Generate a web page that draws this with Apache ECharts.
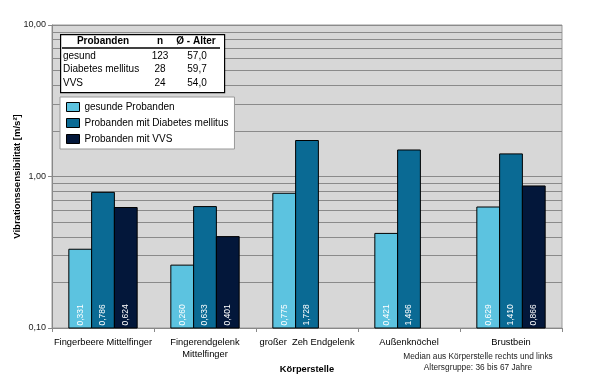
<!DOCTYPE html>
<html><head><meta charset="utf-8">
<script src="https://cdn.jsdelivr.net/npm/echarts@6/dist/echarts.min.js"></script>
<style>html,body{margin:0;padding:0;background:#fff}#c{width:600px;height:386px}</style>
</head><body><div id="c"></div>
<script>
const categories = ['Fingerbeere Mittelfinger', 'Fingerendgelenk\nMittelfinger', 'großer  Zeh Endgelenk', 'Außenknöchel', 'Brustbein'];
const seriesNames = ['gesunde Probanden', 'Probanden mit Diabetes mellitus', 'Probanden mit VVS'];
const gesund = [0.331, 0.260, 0.775, 0.421, 0.629];
const diabetes = [0.786, 0.633, 1.728, 1.496, 1.410];
const vvs = [0.624, 0.401, null, null, 0.866];
const axisMin = 0.1, axisMax = 10;
const minorGridValues = [0.2, 0.3, 0.4, 0.5, 0.6, 0.7, 0.8, 0.9, 2, 3, 4, 5, 6, 7, 8, 9];
const tableHeader = ['Probanden', 'n', 'Ø - Alter'];
const tableRows = [['gesund', '123', '57,0'], ['Diabetes mellitus', '28', '59,7'], ['VVS', '24', '54,0']];
const notes = ['Median aus Körperstelle rechts und links', 'Altersgruppe: 36 bis 67 Jahre'];
const colors = ['#5cc3e0', '#0a6a94', '#03173a'];
const FONT = '"Liberation Sans", Arial, sans-serif';

const chart = echarts.init(document.getElementById('c'), null, {renderer: 'canvas'});
const fmt = v => v.toFixed(3).replace('.', ',');
const GAP = 0.33;
function mkSeries(name, values, si) {
  const data = [];
  values.forEach((v, i) => { if (v != null) data.push([i, v]); });
  return {
    name, type: 'custom', data, z: 2,
    encode: {x: 0, y: 1},
    itemStyle: {color: colors[si], borderColor: '#000', borderWidth: 1},
    renderItem: (params, api) => {
      const ci = api.value(0), v = api.value(1);
      const base = api.coord([ci, axisMin]);
      const topPt = api.coord([ci, v]);
      const band = api.coord([1, axisMin])[0] - api.coord([0, axisMin])[0];
      const bw = band * (1 - GAP) / 3;
      const x0 = base[0] - 1.5 * bw + si * bw;
      return {
        type: 'group',
        children: [
          {type: 'rect', shape: {x: x0, y: topPt[1], width: bw, height: base[1] - topPt[1]},
            style: {fill: colors[si], stroke: '#000', lineWidth: 1}},
          {type: 'text', x: x0 + bw / 2, y: base[1] - 2.5, rotation: Math.PI / 2,
            style: {text: fmt(v), fill: '#fff', font: '8.5px ' + FONT, align: 'left', verticalAlign: 'middle'}}
        ]
      };
    }
  };
}
const series = [mkSeries(seriesNames[0], gesund, 0), mkSeries(seriesNames[1], diabetes, 1), mkSeries(seriesNames[2], vvs, 2)];
series[0].markLine = {
  silent: true, symbol: 'none', z: 1, animation: false,
  label: {show: false},
  lineStyle: {color: '#8a8a8a', type: 'solid', width: 1},
  data: minorGridValues.map(v => ({yAxis: v}))
};

const tableX = 60, tableY = 34;
const colX = [103, 160, 196];
const graphic = [
  {type: 'rect', left: tableX, top: tableY, shape: {width: 164, height: 58}, style: {fill: '#fff', stroke: '#000', lineWidth: 1.2}, z: 10},
  {type: 'line', shape: {x1: 62, y1: 48, x2: 220, y2: 48}, style: {stroke: '#000', lineWidth: 1.5}, z: 11}
];
tableHeader.forEach((h, i) => graphic.push({type: 'text', x: colX[i], y: 41, z: 11,
  style: {text: h, font: 'bold 10px ' + FONT, fill: '#000', align: 'center', verticalAlign: 'middle'}}));
tableRows.forEach((r, j) => {
  const y = 56 + j * 13.5;
  graphic.push({type: 'text', x: 63, y, z: 11, style: {text: r[0], font: '10px ' + FONT, fill: '#000', align: 'left', verticalAlign: 'middle'}});
  graphic.push({type: 'text', x: 160, y, z: 11, style: {text: r[1], font: '10px ' + FONT, fill: '#000', align: 'center', verticalAlign: 'middle'}});
  graphic.push({type: 'text', x: 197, y, z: 11, style: {text: r[2], font: '10px ' + FONT, fill: '#000', align: 'center', verticalAlign: 'middle'}});
});
notes.forEach((t, i) => graphic.push({type: 'text', x: 478, y: 357 + i * 11, z: 11,
  style: {text: t, font: '8.3px ' + FONT, fill: '#222', align: 'center', verticalAlign: 'middle'}}));

chart.setOption({
  animation: false,
  backgroundColor: '#fff',
  textStyle: {fontFamily: FONT},
  grid: {left: 52, top: 25, right: 38, bottom: 58, show: true, backgroundColor: '#d7d7d7', borderColor: '#999', borderWidth: 1,
    containLabel: false, outerBoundsMode: 'none'},
  legend: {
    orient: 'vertical', left: 60, top: 97, itemWidth: 13, itemHeight: 9, itemGap: 6, icon: 'rect',
    itemStyle: {borderColor: '#000', borderWidth: 1},
    padding: [5, 6, 5, 6], backgroundColor: '#fff', borderColor: '#999', borderWidth: 1,
    textStyle: {fontSize: 10, color: '#000', fontFamily: FONT}, data: seriesNames, selectedMode: false
  },
  xAxis: {
    type: 'category', data: categories,
    name: 'Körperstelle', nameLocation: 'middle', nameGap: 37, nameMoveOverlap: false,
    nameTextStyle: {fontWeight: 'bold', fontSize: 9.3, color: '#000', fontFamily: FONT},
    axisLine: {lineStyle: {color: '#888'}},
    axisTick: {show: true, length: 4, lineStyle: {color: '#888'}},
    axisLabel: {fontSize: 9.3, color: '#000', margin: 8, lineHeight: 12, interval: 0, fontFamily: FONT}
  },
  yAxis: {
    type: 'log', logBase: 10, min: axisMin, max: axisMax,
    name: 'Vibrationssensibilität [m/s²]', nameLocation: 'middle', nameGap: 30, nameMoveOverlap: false,
    nameTextStyle: {fontWeight: 'bold', fontSize: 9.5, color: '#000', fontFamily: FONT},
    axisLine: {show: true, lineStyle: {color: '#888'}},
    axisTick: {show: true, length: 4, lineStyle: {color: '#888'}},
    axisLabel: {fontSize: 9, color: '#222', margin: 6, fontFamily: FONT,
      formatter: v => v.toFixed(2).replace('.', ',')},
    splitLine: {show: true, lineStyle: {color: '#8a8a8a', width: 1}}
  },
  series,
  graphic
});
</script></body></html>
